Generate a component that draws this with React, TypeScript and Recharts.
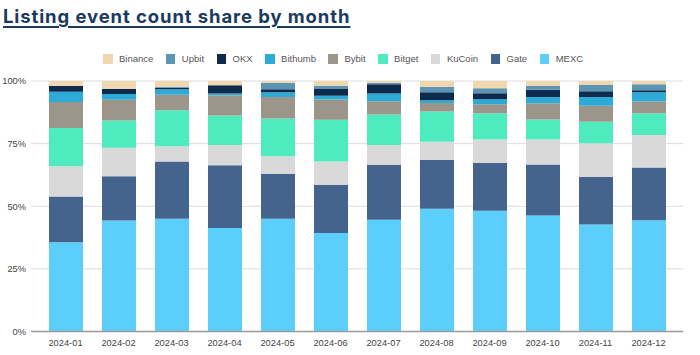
import React from "react";
import { BarChart, Bar, XAxis, YAxis, CartesianGrid } from "recharts";

const months = ["2024-01","2024-02","2024-03","2024-04","2024-05","2024-06","2024-07","2024-08","2024-09","2024-10","2024-11","2024-12"];
const mexc    = [35.7, 44.4, 45.0, 41.3, 45.0, 39.4, 44.6, 49.0, 48.2, 46.3, 42.8, 44.4];
const gate    = [18.2, 17.6, 22.9, 25.1, 17.9, 19.2, 21.9, 19.5, 19.1, 20.4, 19.0, 21.1];
const kucoin  = [12.1, 11.4, 6.1, 8.1, 7.1, 9.3, 8.0, 7.2, 9.3, 9.9, 13.4, 12.9];
const bitget  = [15.3, 10.9, 14.3, 11.7, 15.0, 16.7, 12.1, 12.1, 10.5, 8.0, 8.6, 8.7];
const bybit   = [10.4, 8.3, 6.2, 8.1, 8.6, 8.1, 5.3, 3.4, 3.6, 6.5, 6.4, 4.7];
const bithumb = [4.1, 2.3, 2.2, 0.7, 1.9, 1.5, 3.1, 1.1, 2.0, 2.5, 3.5, 3.7];
const okx     = [2.3, 2.1, 0.6, 3.3, 1.2, 2.7, 3.7, 3.2, 2.4, 2.9, 2.3, 0.8];
const upbit   = [0, 0, 0.4, 0, 2.5, 1.3, 0.5, 2.1, 2.0, 1.6, 2.5, 2.4];
const binance = [2.0, 3.1, 2.3, 1.7, 0.8, 1.9, 0.8, 2.4, 2.9, 1.9, 1.6, 1.3];

const yTicks = [0, 0.25, 0.5, 0.75, 1];

// stack order bottom -> top
const series = [
  { key: "MEXC", values: mexc, color: "#5ccefc" },
  { key: "Gate", values: gate, color: "#44648d" },
  { key: "KuCoin", values: kucoin, color: "#d9d9d9" },
  { key: "Bitget", values: bitget, color: "#4eebbf" },
  { key: "Bybit", values: bybit, color: "#9b958a" },
  { key: "Bithumb", values: bithumb, color: "#2daad6" },
  { key: "OKX", values: okx, color: "#0e2a4d" },
  { key: "Upbit", values: upbit, color: "#5b95b3" },
  { key: "Binance", values: binance, color: "#f1d7b0" },
];

const data = months.map((m, i) => {
  const row: Record<string, string | number> = { month: m };
  series.forEach((s) => { row[s.key] = s.values[i]; });
  return row;
});

const FONT = "'Liberation Sans', Arial, sans-serif";

function LegendBox() {
  return (
    <div style={{ position: "absolute", left: 103, top: 53, display: "flex", alignItems: "center", fontFamily: FONT, fontSize: 9.5, color: "#555", lineHeight: "12px", whiteSpace: "nowrap" }}>
      {[...series].reverse().map((s) => (
        <div key={s.key} style={{ display: "flex", alignItems: "center", marginRight: 12.5 }}>
          <span style={{ width: 9.5, height: 9.5, background: s.color, display: "inline-block", marginRight: 6.5 }} />
          <span>{s.key}</span>
        </div>
      ))}
    </div>
  );
}

export default function App() {
  return (
    <div style={{ position: "absolute", left: 0, top: 0, width: 700, height: 355, background: "#fff" }}>
      <div style={{ position: "absolute", left: 3, top: 7, fontFamily: "Inter, sans-serif", fontWeight: 700, fontSize: 18.5, lineHeight: "18.5px", letterSpacing: 0.9, color: "#1b3a5f", textDecoration: "underline", textDecorationThickness: 2, textUnderlineOffset: 2.5, whiteSpace: "nowrap" }}>
        Listing event count share by month
      </div>
      <LegendBox />
      <BarChart
        width={700}
        height={355}
        data={data}
        stackOffset="expand"
        margin={{ top: 81, right: 17, bottom: 0, left: 0 }}
        style={{ position: "absolute", left: 0, top: 0 }}
      >
        <CartesianGrid vertical={false} stroke="#dcdcdc" />
        <XAxis
          dataKey="month"
          height={23.5}
          padding={{ left: 8, right: 8 }}
          tickLine={false}
          axisLine={{ stroke: "#9a9a9a", strokeWidth: 1.5 }}
          tick={{ fontSize: 9.3, fill: "#444", fontFamily: FONT }}
          interval={0}
        />
        <YAxis
          width={31}
          domain={[0, 1]}
          ticks={yTicks}
          tickFormatter={(v: number) => `${Math.round(v * 100)}%`}
          axisLine={false}
          tickLine={false}
          tickSize={0}
          tickMargin={5}
          tick={{ fontSize: 9.3, fill: "#444", fontFamily: FONT }}
        />
        {series.map((s) => (
          <Bar key={s.key} dataKey={s.key} stackId="a" fill={s.color} barSize={34} isAnimationActive={false} />
        ))}
      </BarChart>
    </div>
  );
}
